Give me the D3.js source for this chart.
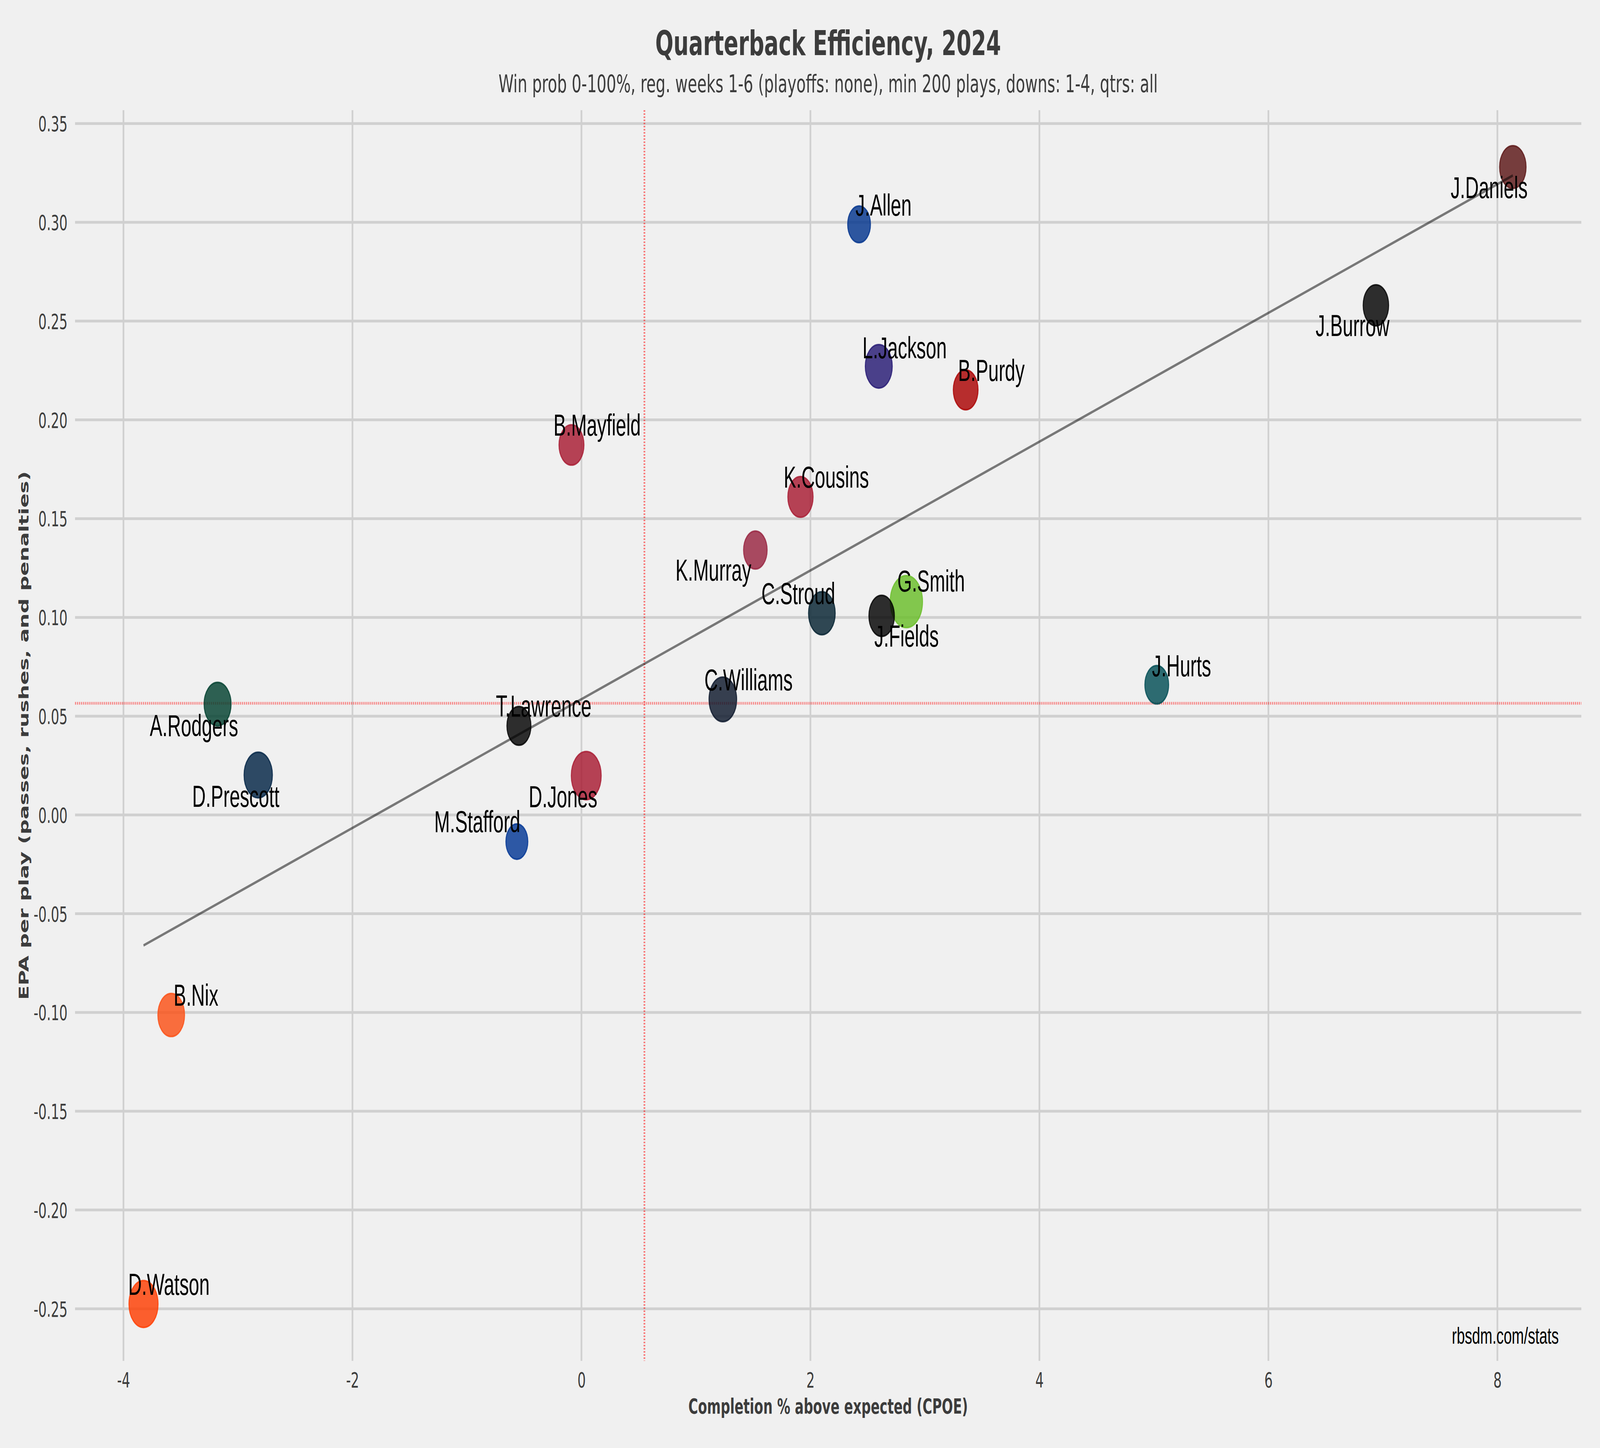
<!DOCTYPE html>
<html>
<head>
<meta charset="utf-8">
<script src="https://cdn.jsdelivr.net/npm/d3@7"></script>
<style>
  html, body { margin: 0; padding: 0; background: #f0f0f0; overflow: hidden; width: 100%; height: 100%; }
  svg { display: block; width: 100vw; height: 100vh; }
</style>
</head>
<body>
<svg id="chart" viewBox="0 0 6588 3706" preserveAspectRatio="none"></svg>
<script>
// ---------------- DATA ----------------
const players = ["B.Mayfield","K.Murray","K.Cousins","A.Rodgers","T.Lawrence","C.Williams","C.Stroud",
  "J.Allen","L.Jackson","B.Purdy","J.Daniels","J.Burrow","G.Smith","J.Fields","J.Hurts",
  "D.Prescott","D.Jones","M.Stafford","B.Nix","D.Watson"];
const cpoe = [-0.087, 1.519, 1.913, -3.178, -0.546, 1.235, 2.100,
  2.425, 2.597, 3.356, 8.135, 6.939, 2.838, 2.622, 5.025,
  -2.823, 0.042, -0.564, -3.583, -3.825];
const epaPerPlay = [0.1873, 0.1341, 0.1610, 0.0561, 0.0451, 0.0585, 0.1021,
  0.2990, 0.2271, 0.2152, 0.3280, 0.2580, 0.1080, 0.1008, 0.0659,
  0.0202, 0.0199, -0.0135, -0.1013, -0.2476];
// scatter marker size values (area in pt^2, as passed to the plotting library)
const markerSize = [324, 288, 331, 378, 300, 397, 370,
  270, 378, 318, 364, 337, 542, 337, 294,
  417, 465, 250, 370, 440];
const teamColors = ["#A71930","#97233F","#A71930","#003F2D","#000000","#0B162A","#03202F",
  "#00338D","#241773","#AA0000","#5A1414","#000000","#69BE28","#000000","#004C54",
  "#002244","#A71930","#003594","#FB4F14","#FF3C00"];
// label placement offsets (px) relative to each point
const labelDx = [-74, -329, -69, -279, -95, -76, -249, -15, -67, -31, -256, -248, -37, -30, -20, -272, -237, -340, 10, -63];
const labelDy = [-24, 78, -24, 82, -24, -23, -24, -22, -21, -23, 80, 79, -26, 79, -22, 81, 81, -24, -24, -23];

const xTicks = [-4, -2, 0, 2, 4, 6, 8];
const yTicks = [-0.25, -0.20, -0.15, -0.10, -0.05, 0.00, 0.05, 0.10, 0.15, 0.20, 0.25, 0.30, 0.35];
const leagueMeanCPOE = 0.55;
const leagueMeanEPA = 0.0565;

const titleText = "Quarterback Efficiency, 2024";
const subtitleText = "Win prob 0-100%, reg. weeks 1-6 (playoffs: none), min 200 plays, downs: 1-4, qtrs: all";
const xLabelText = "Completion % above expected (CPOE)";
const yLabelText = "EPA per play (passes, rushes, and penalties)";
const creditText = "rbsdm.com/stats";

// ---------------- LAYOUT ----------------
const W = 6588, H = 3706;
const margin = { left: 309, right: 77, top: 282, bottom: 223 };
const plotL = margin.left, plotR = W - margin.right, plotT = margin.top, plotB = H - margin.bottom;
const textColor = "#3c3c3c";
const mplFont = "'DejaVu Sans', sans-serif";
const labelFont = "'Liberation Sans', Arial, sans-serif";

const svg = d3.select("#chart");
svg.append("rect").attr("width", W).attr("height", H).attr("fill", "#f0f0f0");

function padded(arr) {
  const [a, b] = d3.extent(arr);
  const p = (b - a) * 0.05;
  return [a - p, b + p];
}
const x = d3.scaleLinear().domain(padded(cpoe)).range([plotL, plotR]);
const y = d3.scaleLinear().domain(padded(epaPerPlay)).range([plotB, plotT]);
const r = d3.scaleSqrt().domain([0, 1]).range([0, 411.75 / 72 / 2]);

const data = players.map((p, i) => ({
  name: p, x: cpoe[i], y: epaPerPlay[i], s: markerSize[i], color: teamColors[i],
  dx: labelDx[i], dy: labelDy[i]
}));

// ---------------- GRID ----------------
const grid = svg.append("g");
grid.selectAll("line.h").data(yTicks).join("line")
  .attr("x1", plotL).attr("x2", plotR)
  .attr("y1", d => y(d)).attr("y2", d => y(d))
  .attr("stroke", "#d0d0d0").attr("stroke-width", 7);
grid.selectAll("line.v").data(xTicks).join("line")
  .attr("y1", plotT).attr("y2", plotB)
  .attr("x1", d => x(d)).attr("x2", d => x(d))
  .attr("stroke", "#d0d0d0").attr("stroke-width", 7);

// tick labels via axis generators
const yAxis = d3.axisLeft(y).tickValues(yTicks).tickSize(0).tickPadding(0)
  .tickFormat(d => d3.format(".2f")(d).replace("−", "-"));
const gy = svg.append("g").attr("transform", `translate(${plotL - 31},0)`).call(yAxis);
gy.select(".domain").remove();
gy.selectAll("text").attr("font-family", mplFont).attr("font-size", 54).attr("fill", textColor)
  .attr("dy", null).attr("dominant-baseline", null)
  .attr("y", 19.5).attr("x", 0).attr("text-anchor", "end");

const xAxis = d3.axisBottom(x).tickValues(xTicks).tickSize(0).tickPadding(0)
  .tickFormat(d => d3.format("d")(d).replace("−", "-"));
const gx = svg.append("g").attr("transform", `translate(0,${plotB})`).call(xAxis);
gx.select(".domain").remove();
gx.selectAll("text").attr("font-family", mplFont).attr("font-size", 54).attr("fill", textColor)
  .attr("dy", null).attr("y", 68);

// ---------------- MEAN LINES ----------------
svg.append("line")
  .attr("x1", x(leagueMeanCPOE)).attr("x2", x(leagueMeanCPOE))
  .attr("y1", plotT).attr("y2", plotB)
  .attr("stroke", "#ff0000").attr("stroke-opacity", 0.5).attr("stroke-width", 7)
  .attr("stroke-dasharray", "4,4");
svg.append("line")
  .attr("x1", plotL).attr("x2", plotR)
  .attr("y1", y(leagueMeanEPA)).attr("y2", y(leagueMeanEPA))
  .attr("stroke", "#ff0000").attr("stroke-opacity", 0.5).attr("stroke-width", 7)
  .attr("stroke-dasharray", "4,4");

// ---------------- POINTS ----------------
svg.append("g").selectAll("circle").data(data).join("circle")
  .attr("cx", d => x(d.x)).attr("cy", d => y(d.y)).attr("r", d => r(d.s))
  .attr("fill", d => d.color).attr("fill-opacity", 0.81)
  .attr("stroke", d => d.color).attr("stroke-opacity", 0.81).attr("stroke-width", 4);

// ---------------- REGRESSION (OLS) ----------------
const mx = d3.mean(cpoe), my = d3.mean(epaPerPlay);
const sxy = d3.sum(cpoe, (v, i) => (v - mx) * (epaPerPlay[i] - my));
const sxx = d3.sum(cpoe, v => (v - mx) * (v - mx));
const slope = sxy / sxx, intercept = my - slope * mx;
const [xmin, xmax] = d3.extent(cpoe);
const fit = [xmin, xmax].map(v => [v, intercept + slope * v]);
svg.append("path")
  .attr("d", d3.line().x(d => x(d[0])).y(d => y(d[1]))(fit))
  .attr("fill", "none").attr("stroke", "#000").attr("stroke-opacity", 0.5).attr("stroke-width", 6.5);

// ---------------- LABELS ----------------
svg.append("g").selectAll("text").data(data).join("text")
  .attr("x", d => x(d.x) + d.dx).attr("y", d => y(d.y) + d.dy)
  .attr("font-family", labelFont).attr("font-size", 77).attr("fill", "#000")
  .text(d => d.name);

// ---------------- TEXT ----------------
const cx = (plotL + plotR) / 2;
svg.append("text").attr("x", cx).attr("y", 141).attr("text-anchor", "middle")
  .attr("font-family", mplFont).attr("font-weight", "bold").attr("font-size", 88)
  .attr("fill", textColor).text(titleText);
svg.append("text").attr("x", cx).attr("y", 236).attr("text-anchor", "middle")
  .attr("font-family", mplFont).attr("font-size", 63)
  .attr("fill", textColor).text(subtitleText);
svg.append("text").attr("x", cx).attr("y", 3618).attr("text-anchor", "middle")
  .attr("font-family", mplFont).attr("font-weight", "bold").attr("font-size", 54)
  .attr("fill", textColor).text(xLabelText);
svg.append("text")
  .attr("transform", `translate(117,${(plotT + plotB) / 2}) rotate(-90)`)
  .attr("text-anchor", "middle")
  .attr("font-family", mplFont).attr("font-weight", "bold").attr("font-size", 54)
  .attr("fill", textColor).text(yLabelText);
svg.append("text").attr("x", plotR - 93).attr("y", 3439).attr("text-anchor", "end")
  .attr("font-family", labelFont).attr("font-size", 60).attr("fill", "#000")
  .text(creditText);
</script>
</body>
</html>
